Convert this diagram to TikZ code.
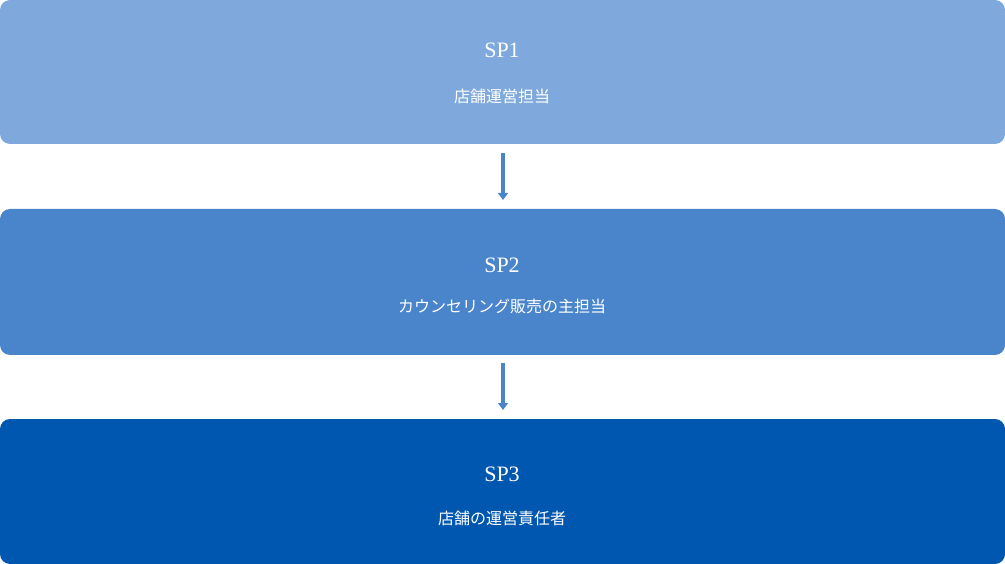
\documentclass[tikz,border=0pt]{standalone}
\usepackage{fontspec}
\setmainfont{Liberation Serif}
\newfontfamily\cjk{Noto Sans CJK JP}
\usetikzlibrary{arrows.meta}
\definecolor{bA}{HTML}{7FA9DC}
\definecolor{bB}{HTML}{4A85CC}
\definecolor{bC}{HTML}{0057B0}
\definecolor{arr}{HTML}{4A85CC}
\tikzset{box/.style={rounded corners=10pt,draw=none},
 ttl/.style={text=white,font=\fontsize{22}{24}\selectfont},
 sub/.style={text=white,font=\cjk\fontsize{16}{18}\selectfont},
 conn/.style={arr,line width=4pt,-{Triangle[width=10pt,length=7pt]}}}
\begin{document}
\begin{tikzpicture}[x=1pt,y=-1pt]
\useasboundingbox (0,0) rectangle (1005,564);
\fill[box,bA] (0,0) rectangle (1005,144);
\fill[box,bB] (0,209) rectangle (1005,355);
\fill[box,bC] (0,419) rectangle (1005,564);
\node[ttl] (t1) at (502,50) {SP1};
\node[sub] (s1) at (502,96) {店舗運営担当};
\node[ttl] (t2) at (502,265) {SP2};
\node[sub] (s2) at (502,306) {カウンセリング販売の主担当};
\node[ttl] (t3) at (502,474) {SP3};
\node[sub] (s3) at (502,518) {店舗の運営責任者};
\coordinate (a1) at (503,153); \coordinate (b1) at (503,200);
\coordinate (a2) at (503,363); \coordinate (b2) at (503,410);
\draw[conn] (a1) -- (b1);
\draw[conn] (a2) -- (b2);
\end{tikzpicture}
\end{document}
